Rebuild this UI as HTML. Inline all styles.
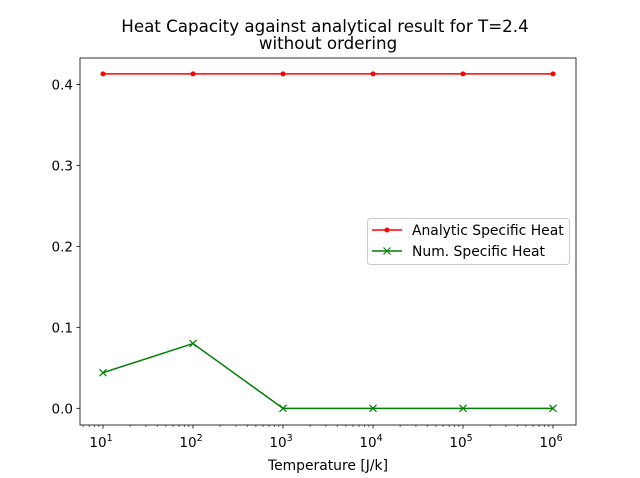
<!DOCTYPE html>
<html><head><meta charset="utf-8"><style>
body{margin:0;background:#fff}
svg{display:block;font-family:"DejaVu Sans","Liberation Sans",sans-serif}
</style></head><body>
<svg id="chart" width="640" height="478">
<rect width="640" height="478" fill="#fff"/>
<text x="325" y="32" text-anchor="middle" font-size="16.7">Heat Capacity against analytical result for T=2.4</text>
<text x="328" y="49" text-anchor="middle" font-size="16.7">without ordering</text>
<g id="plot"></g>
<text x="328" y="470" text-anchor="middle" font-size="13.9">Temperature [J/k]</text>
<g>
<rect x="367.5" y="218.5" width="202" height="46" rx="3" fill="#fff" stroke="#ccc"/>
<g>
<line x1="372" y1="230" x2="402" y2="230" stroke="red" stroke-width="1.5"/>
<circle cx="387" cy="230" r="2.5" fill="red"/>
<text x="412" y="235" font-size="13.9">Analytic Specific Heat</text></g>
<g>
<line x1="372" y1="251" x2="402" y2="251" stroke="green" stroke-width="1.5"/>
<path d="M383.5,247.5L390.5,254.5M390.5,247.5L383.5,254.5" stroke="green" stroke-width="1.2"/>
<text x="412" y="256" font-size="13.9">Num. Specific Heat</text></g>
</g>
</svg>
<script>
const temps=[1e1,1e2,1e3,1e4,1e5,1e6];
const analytic=[0.413,0.413,0.413,0.413,0.413,0.413];
const numerical=[0.044,0.080,0.0,0.0,0.0,0.0];
const yTicks=[0.0,0.1,0.2,0.3,0.4];
const xTickExps=[1,2,3,4,5,6];
const NS='http://www.w3.org/2000/svg';
const L=80,R=576,T=58,B=425;
const xMin=Math.log10(1e1)-23/90,xMax=Math.log10(1e6)+23/90;
const yMin=-0.0206,yMax=0.4326;
function xs(v){return L+(Math.log10(v)-xMin)/(xMax-xMin)*(R-L);}
function ys(v){return B-(v-yMin)/(yMax-yMin)*(B-T);}
const g=document.getElementById('plot');
function mk(tag,attrs,parent){const e=document.createElementNS(NS,tag);for(const k in attrs)e.setAttribute(k,attrs[k]);(parent||g).appendChild(e);return e;}
yTicks.forEach(v=>{const y=ys(v);
const t=mk('line',{x1:L-3.5,x2:L,y1:y,y2:y,stroke:'#000','stroke-width':0.8});


const tx=mk('text',{x:L-7,y:y+5,'text-anchor':'end','font-size':13.5});tx.textContent=v.toFixed(1);

});
xTickExps.forEach(e=>{const x=xs(Math.pow(10,e));
mk('line',{x1:x,x2:x,y1:B,y2:B+3.5,stroke:'#000','stroke-width':0.8});
const tx=mk('text',{x:x-2,y:B+22,'text-anchor':'middle','font-size':13.5});


tx.innerHTML='10<tspan dy="-6" font-size="9.5">'+e+'</tspan>';});
for(let e=0;e<=6;e++)for(let m=2;m<=9;m++){const v=m*Math.pow(10,e);const lv=Math.log10(v);
if(lv<xMin||lv>xMax)continue;const x=xs(v);
mk('line',{x1:x,x2:x,y1:B,y2:B+2,stroke:'#000','stroke-width':0.6});}
function series(vals,color,name){
const pts=temps.map((t,i)=>xs(t)+','+ys(vals[i])).join(' ');
const p=mk('polyline',{points:pts,fill:'none',stroke:color,'stroke-width':1.5});


temps.forEach((t,i)=>{const x=xs(t),y=ys(vals[i]);let m;
if(name==='analytic'){m=mk('circle',{cx:x,cy:y,r:2.5,fill:color});}
else{m=mk('path',{d:`M${x-3.5},${y-3.5}L${x+3.5},${y+3.5}M${x+3.5},${y-3.5}L${x-3.5},${y+3.5}`,stroke:color,'stroke-width':1.2});}

});}
series(analytic,'red','analytic');
series(numerical,'green','numerical');
const f=mk('rect',{x:L,y:T,width:R-L,height:B-T,fill:'none',stroke:'#000','stroke-width':0.8});


</script>
</body></html>
